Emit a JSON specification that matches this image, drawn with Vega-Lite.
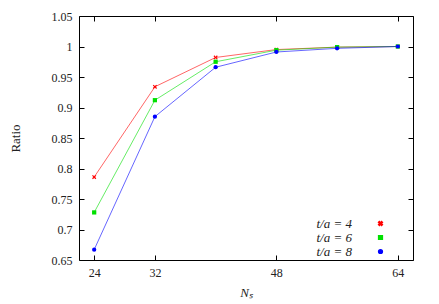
{
  "$schema": "https://vega.github.io/schema/vega-lite/v6.json",
  "width": 334,
  "height": 244,
  "autosize": {"type": "none"},
  "padding": {"left": 79, "top": 16, "right": 26, "bottom": 44},
  "config": {
    "view": {"stroke": "#000", "strokeWidth": 1},
    "font": "Liberation Serif",
    "axis": {
      "grid": false,
      "domain": false,
      "tickColor": "#000",
      "tickSize": -5,
      "labelFont": "Liberation Serif",
      "labelFontSize": 12,
      "labelColor": "#222",
      "titleFont": "Liberation Serif",
      "titleFontWeight": "normal",
      "titleFontSize": 13,
      "titleColor": "#222"
    },
    "legend": {
      "labelFont": "Liberation Serif",
      "labelFontSize": 13,
      "labelFontStyle": "italic",
      "labelColor": "#222",
      "symbolOpacity": 1
    }
  },
  "data": {
    "values": [
      {"Ns": 24, "ratio": 0.786, "series": "t/a = 4"},
      {"Ns": 32, "ratio": 0.934, "series": "t/a = 4"},
      {"Ns": 40, "ratio": 0.982, "series": "t/a = 4"},
      {"Ns": 48, "ratio": 0.995, "series": "t/a = 4"},
      {"Ns": 56, "ratio": 0.999, "series": "t/a = 4"},
      {"Ns": 64, "ratio": 1.0, "series": "t/a = 4"},
      {"Ns": 24, "ratio": 0.728, "series": "t/a = 6"},
      {"Ns": 32, "ratio": 0.912, "series": "t/a = 6"},
      {"Ns": 40, "ratio": 0.975, "series": "t/a = 6"},
      {"Ns": 48, "ratio": 0.994, "series": "t/a = 6"},
      {"Ns": 56, "ratio": 0.999, "series": "t/a = 6"},
      {"Ns": 64, "ratio": 1.0, "series": "t/a = 6"},
      {"Ns": 24, "ratio": 0.667, "series": "t/a = 8"},
      {"Ns": 32, "ratio": 0.885, "series": "t/a = 8"},
      {"Ns": 40, "ratio": 0.966, "series": "t/a = 8"},
      {"Ns": 48, "ratio": 0.991, "series": "t/a = 8"},
      {"Ns": 56, "ratio": 0.997, "series": "t/a = 8"},
      {"Ns": 64, "ratio": 1.0, "series": "t/a = 8"}
    ]
  },
  "layer": [
    {
      "mark": {"type": "line", "strokeWidth": 1, "opacity": 0.6},
      "encoding": {
        "x": {
          "field": "Ns", "type": "quantitative",
          "scale": {"domain": [22, 66], "nice": false, "zero": false},
          "axis": {"values": [24, 32, 48, 64], "title": "Nₛ", "titleFontStyle": "italic", "labelPadding": 12, "titlePadding": 8}
        },
        "y": {
          "field": "ratio", "type": "quantitative",
          "scale": {"domain": [0.65, 1.05], "nice": false, "zero": false},
          "axis": {"values": [0.65, 0.7, 0.75, 0.8, 0.85, 0.9, 0.95, 1, 1.05], "format": ".2~f", "title": "Ratio", "labelPadding": 12, "titlePadding": 29}
        },
        "color": {
          "field": "series", "type": "nominal",
          "scale": {"domain": ["t/a = 4", "t/a = 6", "t/a = 8"], "range": ["#ff0000", "#00e000", "#0000ff"]},
          "legend": {"title": null, "orient": "none", "legendX": 295, "legendY": 201, "labelAlign": "right", "labelOffset": -35, "rowPadding": 0, "symbolSize": 14}
        }
      }
    },
    {
      "mark": {"type": "point", "filled": true, "size": 18, "opacity": 1},
      "encoding": {
        "x": {"field": "Ns", "type": "quantitative", "axis": null},
        "y": {"field": "ratio", "type": "quantitative", "axis": null},
        "color": {
          "field": "series", "type": "nominal",
          "legend": {"title": null, "orient": "none", "legendX": 295, "legendY": 201, "labelAlign": "right", "labelOffset": -35, "rowPadding": 0, "symbolSize": 14}
        },
        "shape": {
          "field": "series", "type": "nominal",
          "scale": {"domain": ["t/a = 4", "t/a = 6", "t/a = 8"], "range": ["M-1,-0.6L-0.6,-1L0,-0.4L0.6,-1L1,-0.6L0.4,0L1,0.6L0.6,1L0,0.4L-0.6,1L-1,0.6L-0.4,0Z", "square", "circle"]},
          "legend": {"title": null, "orient": "none", "legendX": 295, "legendY": 201, "labelAlign": "right", "labelOffset": -35, "rowPadding": 0, "symbolSize": 14}
        }
      }
    },
    {
      "mark": {"type": "point", "opacity": 0},
      "encoding": {
        "x": {"field": "Ns", "type": "quantitative", "axis": {"orient": "top", "values": [24, 32, 48, 64], "labels": false, "title": null}},
        "y": {"field": "ratio", "type": "quantitative", "axis": {"orient": "right", "values": [0.65, 0.7, 0.75, 0.8, 0.85, 0.9, 0.95, 1, 1.05], "labels": false, "title": null}}
      }
    }
  ],
  "resolve": {"axis": {"x": "independent", "y": "independent"}}
}
